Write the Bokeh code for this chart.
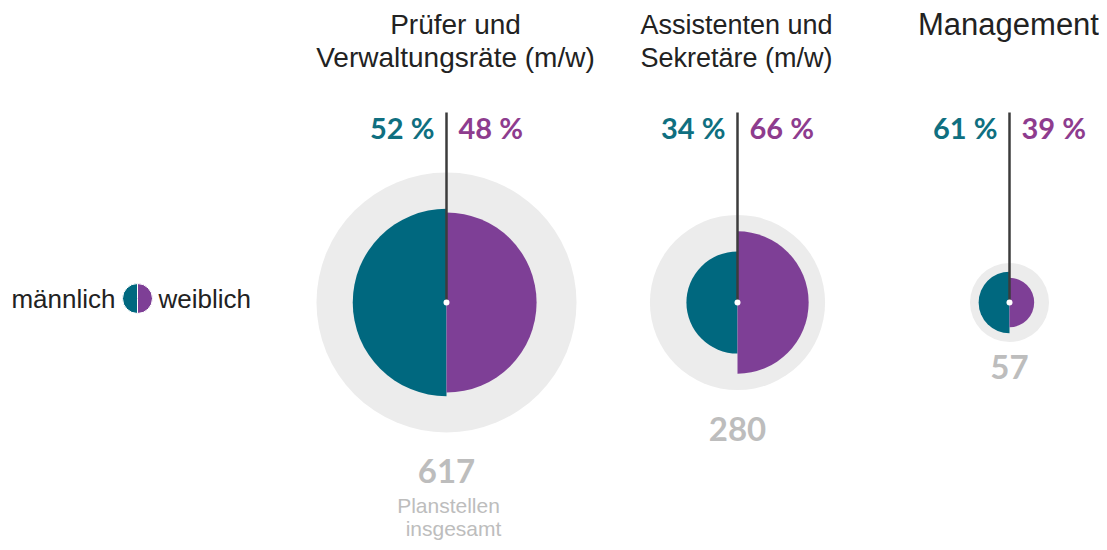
import math
from bokeh.plotting import figure
from bokeh.models import Range1d, ColumnDataSource
from bokeh.core.properties import value
from bokeh.embed import file_html
from bokeh.resources import INLINE

# ---- data ----
groups = ["Prüfer und Verwaltungsräte (m/w)", "Assistenten und Sekretäre (m/w)", "Management"]
title_lines = [["Prüfer und", "Verwaltungsräte (m/w)"], ["Assistenten und", "Sekretäre (m/w)"], ["Management"]]
totals = [617, 280, 57]
male_pct = [52, 34, 61]
female_pct = [48, 66, 39]

# ---- style / layout ----
TEAL = "#00687F"
PURPLE = "#7E3F96"
TEAL_TXT = "#0F6F80"
PURPLE_TXT = "#8E3C8E"
GREY_BG = "#ECECEC"
GREY_TXT = "#BDBDBD"
DARK = "#222222"
FONT = "Lato"
FONT2 = "Liberation Sans"
H = 550
W = 1099
PH = 542
K = 27.4  # px^2 per person

cx = [446, 737, 1009]
cy_px = 302
title_cx = [455, 736, 1008]
title_size = ["28px", "27px", "31px"]
total_y_px = [470, 428, 366]

def Y(py):
    return H - py

p = figure(width=W, height=PH, output_backend="svg", toolbar_location=None,
           x_range=Range1d(0, W), y_range=Range1d(H - PH, H),
           x_axis_location=None, y_axis_location=None, min_border=0)
p.outline_line_color = None
p.grid.visible = False
p.background_fill_color = "white"

male_n = [t * m / 100 for t, m in zip(totals, male_pct)]
fem_n = [t * f / 100 for t, f in zip(totals, female_pct)]
cy = [Y(cy_px)] * 3

src = ColumnDataSource(dict(
    x=cx, y=cy,
    rt=[math.sqrt(K * t) for t in totals],
    rm=[math.sqrt(K * n) for n in male_n],
    rf=[math.sqrt(K * n) for n in fem_n],
))

p.circle(x="x", y="y", radius="rt", source=src, fill_color=GREY_BG, line_color=None)
p.wedge(x="x", y="y", radius="rm", start_angle=math.pi / 2, end_angle=3 * math.pi / 2,
        source=src, fill_color=TEAL, line_color=None)
p.wedge(x="x", y="y", radius="rf", start_angle=-math.pi / 2, end_angle=math.pi / 2,
        source=src, fill_color=PURPLE, line_color=None)

# vertical lines
p.segment(x0=cx, y0=cy, x1=cx, y1=[Y(112)] * 3, line_color="#3C3C3C", line_width=2.5)
p.scatter(x=cx, y=cy, size=6, fill_color="white", line_color=None)

# percent labels
p.text(x=[c - 12 for c in cx], y=[Y(127)] * 3, text=[f"{m} %" for m in male_pct],
       text_align="right", text_baseline="middle", text_font=value(FONT),
       text_font_style="bold", text_font_size="29px", text_color=TEAL_TXT)
p.text(x=[c + 12 for c in cx], y=[Y(127)] * 3, text=[f"{f} %" for f in female_pct],
       text_align="left", text_baseline="middle", text_font=value(FONT),
       text_font_style="bold", text_font_size="29px", text_color=PURPLE_TXT)

# titles
for i, lines in enumerate(title_lines):
    p.text(x=[title_cx[i]] * len(lines), y=[Y(24 + 33 * j) for j in range(len(lines))],
           text=lines, text_align="center", text_baseline="middle",
           text_font=value(FONT2), text_font_size=title_size[i], text_color=DARK)

# totals
p.text(x=cx, y=[Y(v) for v in total_y_px], text=[str(t) for t in totals],
       text_align="center", text_baseline="middle", text_font=value(FONT),
       text_font_style="bold", text_font_size="33px", text_color=GREY_TXT)
p.text(x=[448, 453], y=[Y(505), Y(528)], text=["Planstellen", "insgesamt"],
       text_align="center", text_baseline="middle", text_font=value(FONT2),
       text_font_size="21px", text_color=GREY_TXT)

# legend
p.wedge(x=[137], y=[Y(298)], radius=15, start_angle=math.pi / 2, end_angle=3 * math.pi / 2,
        fill_color=TEAL, line_color="white", line_width=1)
p.wedge(x=[137], y=[Y(298)], radius=15, start_angle=-math.pi / 2, end_angle=math.pi / 2,
        fill_color=PURPLE, line_color="white", line_width=1)
p.text(x=[115], y=[Y(298)], text=["männlich"], text_align="right", text_baseline="middle",
       text_font=value(FONT2), text_font_size="26px", text_color=DARK)
p.text(x=[158], y=[Y(298)], text=["weiblich"], text_align="left", text_baseline="middle",
       text_font=value(FONT2), text_font_size="26px", text_color=DARK)

open("out.html", "w").write(file_html(p, INLINE))
